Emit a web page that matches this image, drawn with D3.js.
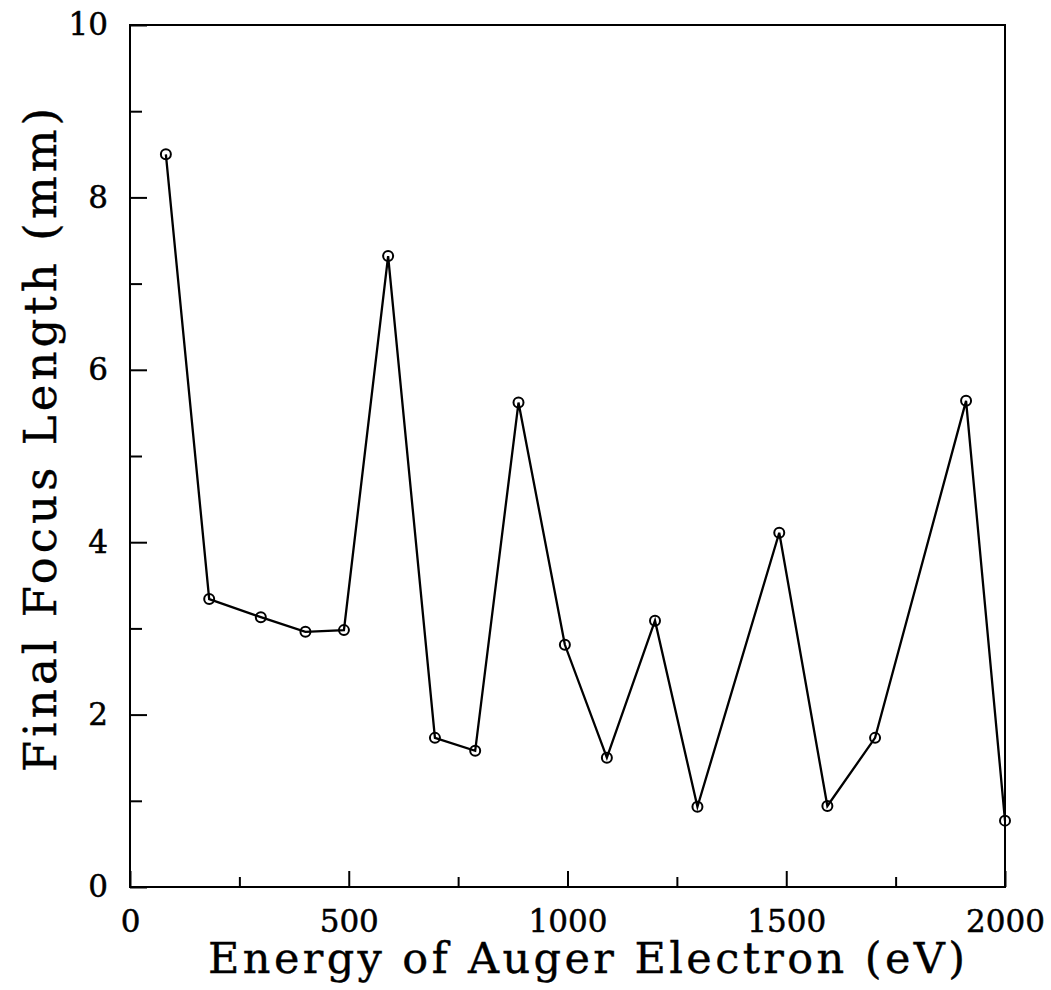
<!DOCTYPE html>
<html>
<head>
<meta charset="utf-8">
<script src="https://cdn.jsdelivr.net/npm/d3@7"></script>
<style>
  html, body { margin: 0; padding: 0; background: #fff; }
  svg { display: block; }
  text { font-family: "DejaVu Serif", "Liberation Serif", serif; fill: #000; }
</style>
</head>
<body>
<svg id="chart" width="1051" height="990"></svg>
<script>
// ---- data ----
const energy = [82, 181, 299, 401, 489, 590, 697, 789, 888, 994, 1090, 1200, 1297, 1484, 1594, 1703, 1911, 2000];
const focusLength = [8.50, 3.34, 3.13, 2.96, 2.98, 7.32, 1.73, 1.58, 5.62, 2.81, 1.50, 3.09, 0.93, 4.11, 0.94, 1.73, 5.64, 0.77];
const xMajorTicks = [0, 500, 1000, 1500, 2000];
const xMinorTicks = [250, 750, 1250, 1750];
const yMajorTicks = [0, 2, 4, 6, 8, 10];
const yMinorTicks = [1, 3, 5, 7, 9];
const xTitle = "Energy of Auger Electron (eV)";
const yTitle = "Final Focus Length (mm)";

// ---- layout ----
const plotLeft = 130, plotRight = 1005, plotTop = 25, plotBottom = 887;
const svg = d3.select("#chart");

const x = d3.scaleLinear().domain([0, 2000]).range([plotLeft, plotRight]);
const y = d3.scaleLinear().domain([0, 10]).range([plotBottom, plotTop]);

// frame
svg.append("rect")
  .attr("x", plotLeft).attr("y", plotTop)
  .attr("width", plotRight - plotLeft).attr("height", plotBottom - plotTop)
  .attr("fill", "none").attr("stroke", "#000").attr("stroke-width", 2);

// x axis (ticks inward)
const gx = svg.append("g").attr("transform", `translate(0,${plotBottom})`)
  .call(d3.axisBottom(x).tickValues(xMajorTicks).tickSize(-16).tickPadding(23).tickFormat(d3.format("d")));
gx.select(".domain").remove();
gx.selectAll(".tick line").attr("stroke", "#000").attr("stroke-width", 2);
gx.selectAll(".tick text").attr("font-size", 31).attr("dy", "0.71em")
  .attr("font-family", "DejaVu Serif").attr("stroke", "#000").attr("stroke-width", 0.5);

const gxm = svg.append("g").attr("transform", `translate(0,${plotBottom})`)
  .call(d3.axisBottom(x).tickValues(xMinorTicks).tickSize(-10).tickFormat(""));
gxm.select(".domain").remove();
gxm.selectAll(".tick line").attr("stroke", "#000").attr("stroke-width", 2);

// y axis (ticks inward)
const gy = svg.append("g").attr("transform", `translate(${plotLeft},0)`)
  .call(d3.axisLeft(y).tickValues(yMajorTicks).tickSize(-17).tickPadding(22).tickFormat(d3.format("d")));
gy.select(".domain").remove();
gy.selectAll(".tick line").attr("stroke", "#000").attr("stroke-width", 2);
gy.selectAll(".tick text").attr("font-size", 31).attr("font-family", "DejaVu Serif")
  .attr("stroke", "#000").attr("stroke-width", 0.5);

const gym = svg.append("g").attr("transform", `translate(${plotLeft},0)`)
  .call(d3.axisLeft(y).tickValues(yMinorTicks).tickSize(-12).tickFormat(""));
gym.select(".domain").remove();
gym.selectAll(".tick line").attr("stroke", "#000").attr("stroke-width", 2);

// line
const pts = energy.map((e, i) => [e, focusLength[i]]);
svg.append("path")
  .datum(pts)
  .attr("fill", "none").attr("stroke", "#000").attr("stroke-width", 2.3)
  .attr("d", d3.line().x(d => x(d[0])).y(d => y(d[1])));

// markers
svg.append("g").selectAll("circle").data(pts).join("circle")
  .attr("cx", d => x(d[0])).attr("cy", d => y(d[1])).attr("r", 5)
  .attr("fill", "none").attr("stroke", "#000").attr("stroke-width", 2);

// titles
svg.append("text")
  .attr("x", 208).attr("y", 973)
  .attr("font-size", 43)
  .attr("stroke", "#000").attr("stroke-width", 0.4)
  .attr("textLength", 757).attr("lengthAdjust", "spacing")
  .text(xTitle);

svg.append("text")
  .attr("transform", "translate(56,772) rotate(-90)")
  .attr("font-size", 45)
  .attr("stroke", "#000").attr("stroke-width", 0.4)
  .attr("textLength", 664).attr("lengthAdjust", "spacing")
  .text(yTitle);
</script>
</body>
</html>
